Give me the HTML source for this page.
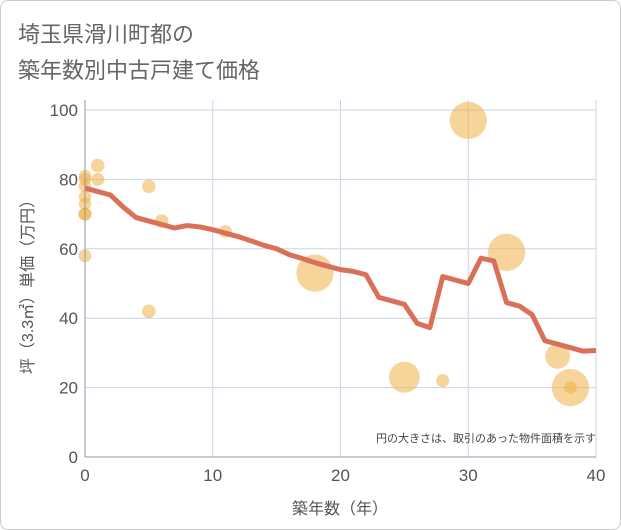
<!DOCTYPE html>
<html><head><meta charset="utf-8"><style>
body{margin:0;background:#fff;font-family:"Liberation Sans","Noto Sans CJK JP",sans-serif}
#wrap{position:relative;width:619px;height:528px;border:1px solid #ccc;border-radius:8px;background:#fff}
svg text{font-family:"Liberation Sans","Noto Sans CJK JP",sans-serif}
</style></head><body>
<div id="wrap">
<svg id="c" width="621" height="530" style="position:absolute;left:-1px;top:-1px">
<text x="18" y="42" font-size="22" fill="#666">埼玉県滑川町都の</text>
<text x="18" y="78" font-size="22" fill="#666">築年数別中古戸建て価格</text>
<g id="grid"></g><g id="bubbles"></g><g id="line"></g><g id="axes"></g>
<text x="596" y="442" font-size="11" fill="#444" text-anchor="end">円の大きさは、取引のあった物件面積を示す</text>
<text x="340" y="514" font-size="16" fill="#555" text-anchor="middle">築年数（年）</text>
<text transform="translate(33,283) rotate(-90)" font-size="16" fill="#555" text-anchor="middle">坪（3.3㎡）単価（万円）</text>
</svg></div>
<script>
const xTicks=[0,10,20,30,40];
const yTicks=[0,20,40,60,80,100];
const lineYears=[0,1,2,3,4,5,6,7,8,9,10,11,12,13,14,15,16,17,18,19,20,21,22,23,24,25,26,27,28,29,30,31,32,33,34,35,36,37,38,39,40];
const lineValues=[77.5,76.5,75.5,72,69,68,67,66,66.7,66.3,65.5,64.5,63.5,62.3,61,60,58.3,57.2,56,55,54,53.5,52.5,46,45,44,38.5,37.3,52,51,50,57.3,56.5,44.5,43.5,41,33.5,32.5,31.5,30.5,30.7];
const bubbleX=[0,0,0,0,0,0,0,0,1,1,5,5,6,11,18,25,28,30,33,37,38,38];
const bubbleY=[81,80,78,75,73,70,70,58,84,80,78,42,68,65,53,23,22,97,59,29,20,20];
const bubbleArea=[100,100,100,100,100,110,110,110,120,110,120,120,120,110,900,620,110,900,900,400,900,100];
const NS="http://www.w3.org/2000/svg";
const X0=85,X1=596,Y0=457,Y1=110;
const sx=v=>X0+(X1-X0)*v/40, sy=v=>Y0-(Y0-Y1)*v/100;
function mk(t,a,p){const e=document.createElementNS(NS,t);for(const k in a)e.setAttribute(k,a[k]);p.appendChild(e);return e;}
const g=document.getElementById('grid'),ax=document.getElementById('axes');
xTicks.forEach(v=>{const l=mk('line',{x1:sx(v),x2:sx(v),y1:Y1-10,y2:Y0,stroke:'#c8d6e6'},g);

const t=mk('text',{x:sx(v),y:Y0+24,'font-size':17,fill:'#555','text-anchor':'middle'},ax);t.textContent=v;
});
yTicks.forEach(v=>{const l=mk('line',{x1:X0,x2:X1,y1:sy(v),y2:sy(v),stroke:'#c8d6e6'},g);

const t=mk('text',{x:X0-7,y:sy(v)+6,'font-size':17,fill:'#555','text-anchor':'end'},ax);t.textContent=v;
});
const a1=mk('line',{x1:X0,x2:X0,y1:Y1-10,y2:Y0,stroke:'#8a9aaa'},ax);
const a2=mk('line',{x1:X0,x2:X1,y1:Y0,y2:Y0,stroke:'#8a9aaa'},ax);
const bg=document.getElementById('bubbles');
bubbleX.forEach((x,i)=>{const c=mk('circle',{cx:sx(x),cy:sy(bubbleY[i]),r:Math.sqrt(bubbleArea[i]/Math.PI)*1.1,fill:'rgba(240,176,70,0.55)'},bg);
});
const p=mk('polyline',{points:lineYears.map((x,i)=>sx(x)+','+sy(lineValues[i])).join(' '),fill:'none',stroke:'#d9705a',"stroke-width":5,"stroke-linejoin":"round"},document.getElementById('line'));

</script></body></html>
